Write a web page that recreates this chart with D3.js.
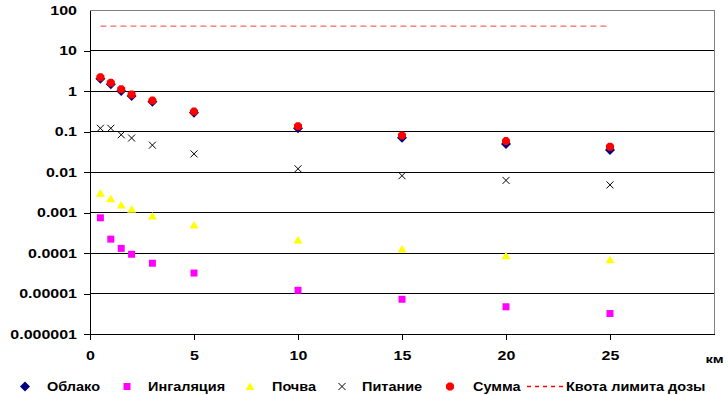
<html>
<script src='https://d3js.org/d3.v7.min.js'></script>
<body style="margin:0; background:#fff;">
<svg width=728 height=395></svg>
<script>

var distances = [0.5, 1, 1.5, 2, 3, 5, 10, 15, 20, 25];
var cloud = [2.0, 1.46, 1.0, 0.75, 0.54, 0.29, 0.12, 0.07, 0.049, 0.035];
var inhalation = [0.00074, 0.00022, 0.00013, 0.000093, 0.000056, 0.000032, 0.000012, 0.0000072, 0.0000047, 0.0000032];
var soil = [0.0030, 0.0022, 0.00153, 0.0012, 0.00082, 0.00049, 0.00021, 0.000125, 0.000086, 0.000068];
var food = [0.12, 0.12, 0.083, 0.069, 0.046, 0.028, 0.012, 0.0081, 0.0062, 0.0048];
var total = [2.2, 1.6, 1.1, 0.82, 0.58, 0.31, 0.135, 0.08, 0.058, 0.042];
var doseLimit = [40, 40, 40, 40, 40, 40, 40, 40, 40, 40];

var yTicks = [1e-6, 1e-5, 1e-4, 1e-3, 1e-2, 1e-1, 1, 10, 100];
var yTickLabels = ["0.000001", "0.00001", "0.0001", "0.001", "0.01", "0.1", "1", "10", "100"];
var xTicks = [0, 5, 10, 15, 20, 25, 30];
var xTickLabels = ["0", "5", "10", "15", "20", "25", "км"];
var seriesNames = ["Облако", "Ингаляция", "Почва", "Питание", "Сумма", "Квота лимита дозы"];

var x = d3.scaleLinear().domain([0, 30]).range([90, 714]);
var y = d3.scaleLog().domain([1e-6, 100]).range([334, 10]);

var sx = 1.28;  // axis text in the picture is stretched horizontally
var lsx = 1.16; // legend text a bit less
var font = "'Liberation Sans', Arial, sans-serif";
var svg = d3.select('svg');

// grid lines
svg.append('g').selectAll('line')
  .data(yTicks.slice(1, -1))
  .join('line')
    .attr('x1', 90).attr('x2', 714)
    .attr('y1', d => y(d)).attr('y2', d => y(d))
    .attr('stroke', '#000').attr('stroke-width', 1)
    .attr('shape-rendering', 'crispEdges');

// plot border top/right (gray)
svg.append('path')
  .attr('d', 'M90,' + y(100) + 'H714V' + y(1e-6))
  .attr('fill', 'none').attr('stroke', '#808080')
  .attr('shape-rendering', 'crispEdges');

// axes
var yAxis = svg.append('g').attr('transform', 'translate(90,0)')
  .call(d3.axisLeft(y).tickValues(yTicks).tickFormat((d, i) => yTickLabels[i]).tickSize(6).tickSizeOuter(0));
var xAxis = svg.append('g').attr('transform', 'translate(0,334)')
  .call(d3.axisBottom(x).tickValues(xTicks).tickFormat((d, i) => xTickLabels[i]).tickSize(6).tickSizeOuter(0));

[yAxis, xAxis].forEach(function(a) {
  a.select('.domain').attr('stroke', '#000').attr('shape-rendering', 'crispEdges');
  a.selectAll('.tick line').attr('stroke', '#000').attr('shape-rendering', 'crispEdges');
  a.selectAll('.tick text')
    .attr('fill', '#000')
    .style('font-family', font).style('font-size', '12.5px').style('font-weight', 'bold');
});
yAxis.selectAll('.tick text').attr('x', -13 / sx).attr('transform', 'scale(' + sx + ',1)');
yAxis.select('.tick:last-of-type line').remove();
xAxis.selectAll('.tick text').attr('y', 17).attr('transform', 'scale(' + sx + ',1)');
xAxis.select('.tick:last-of-type line').remove();
xAxis.select('.tick:last-of-type text').attr('y', 21).style('font-size', '11.5px');

// quota line
svg.append('path')
  .datum(distances.map((d, i) => [d, doseLimit[i]]))
  .attr('d', d3.line().x(d => x(d[0])).y(d => y(d[1])))
  .attr('fill', 'none').attr('stroke', '#ff0000').attr('stroke-width', 1)
  .attr('stroke-dasharray', '6,4').attr('opacity', 0.75);

// marker shapes
var shapes = {
  diamond: 'M0,-5L5,0L0,5L-5,0Z',
  square: 'M-3.5,-3.5H3.5V3.5H-3.5Z',
  triangle: 'M0,-4L4.5,3.5H-4.5Z',
  cross: 'M-3.5,-3.5L3.5,3.5M3.5,-3.5L-3.5,3.5',
  circle: 'M-1.7,-4H1.7L4,-1.7V1.7L1.7,4H-1.7L-4,1.7V-1.7Z'
};

var series = [
  {values: cloud, shape: 'diamond', fill: '#000080', stroke: 'none'},
  {values: inhalation, shape: 'square', fill: '#ff00ff', stroke: 'none'},
  {values: soil, shape: 'triangle', fill: '#ffff00', stroke: 'none'},
  {values: food, shape: 'cross', fill: 'none', stroke: '#000'},
  {values: total, shape: 'circle', fill: '#ff0000', stroke: 'none'}
];

series.forEach(function(s) {
  svg.append('g').selectAll('path')
    .data(distances.map((d, i) => [d, s.values[i]]))
    .join('path')
      .attr('transform', d => 'translate(' + x(d[0]) + ',' + y(d[1]) + ')')
      .attr('d', shapes[s.shape])
      .attr('fill', s.fill).attr('stroke', s.stroke).attr('stroke-width', 1);
});

// legend
var legendMarkX = [25, 127, 250, 342, 450];
var legendTextX = [47, 148, 272, 362, 473, 566];
var legendY = 386.5;
var legend = svg.append('g');
series.forEach(function(s, i) {
  legend.append('path')
    .attr('transform', 'translate(' + legendMarkX[i] + ',' + legendY + ')')
    .attr('d', shapes[s.shape])
    .attr('fill', s.fill).attr('stroke', s.stroke);
});
legend.append('line')
  .attr('x1', 527).attr('x2', 565).attr('y1', legendY).attr('y2', legendY)
  .attr('stroke', '#ff0000').attr('stroke-width', 1.5).attr('stroke-dasharray', '4,4');
legend.selectAll('text')
  .data(seriesNames)
  .join('text')
    .attr('x', (d, i) => legendTextX[i] / lsx)
    .attr('y', legendY + 4.5)
    .attr('transform', 'scale(' + lsx + ',1)')
    .style('font-family', font).style('font-size', '12.5px').style('font-weight', 'bold')
    .text(d => d);

</script>
</body>
</html>
